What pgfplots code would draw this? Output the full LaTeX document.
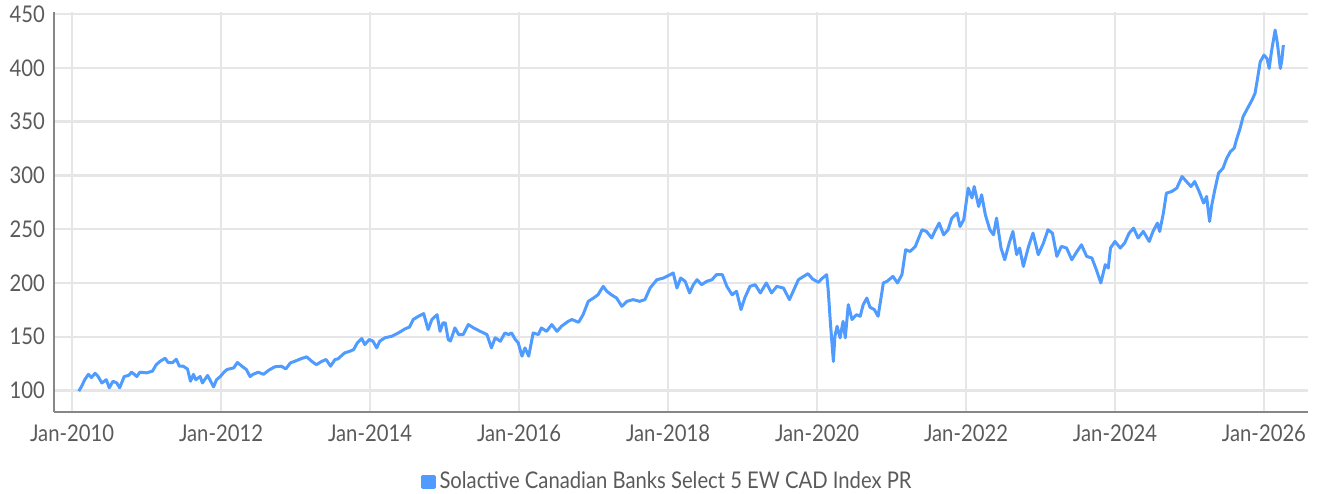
\documentclass[border=0pt]{standalone}
\usepackage{fontspec}
\setmainfont[FakeStretch=0.88]{Lato}
\usepackage{pgfplots}
\pgfplotsset{compat=1.18}
\definecolor{lineblue}{RGB}{79,155,255}
\definecolor{gridgray}{RGB}{230,230,230}
\definecolor{axisgray}{RGB}{135,135,135}
\definecolor{textgray}{RGB}{90,90,90}
\begin{document}
\begin{tikzpicture}
\begin{axis}[
  name=ax,
  scale only axis,
  width=627pt, height=200pt,
  xmin=2009.758, xmax=2026.591,
  ymin=80, ymax=452,
  axis x line*=bottom, axis y line*=left,
  axis line style={draw=axisgray, line width=1pt, -},
  xtick={2010,2012,2014,2016,2018,2020,2022,2024,2026},
  xticklabels={Jan-2010,Jan-2012,Jan-2014,Jan-2016,Jan-2018,Jan-2020,Jan-2022,Jan-2024,Jan-2026},
  ytick={100,150,200,250,300,350,400,450},
  yticklabels={100,150,200,250,300,350,400,450},
  major tick length=0pt,
  grid=major,
  major grid style={draw=gridgray, line width=1.2pt},
  tick label style={font=\fontsize{11.5}{12}\selectfont, text=textgray},
  xticklabel style={yshift=-3pt},
  yticklabel style={xshift=-1pt},
  legend style={draw=none, fill=none, at={(0.49,-0.175)}, anchor=center,
    font=\fontsize{11.5}{12}\selectfont, text=textgray, inner sep=0pt,
    legend cell align=left},
  legend image code/.code={\fill[lineblue] (0pt,-2.9pt) rectangle (5.6pt,2.9pt);},
  clip=false,
]
\addplot[lineblue, line width=1.5pt, line join=round] coordinates {
(2010.09,99.4) (2010.13,104) (2010.17,110) (2010.22,115) (2010.26,112) (2010.31,116)
(2010.35,113) (2010.40,107) (2010.46,110) (2010.50,102.5) (2010.55,108.6) (2010.60,107)
(2010.64,102.5) (2010.70,113) (2010.76,114) (2010.80,117) (2010.87,113) (2010.91,117)
(2011.00,116.4) (2011.08,118) (2011.13,124) (2011.18,127) (2011.25,130) (2011.29,126)
(2011.35,126) (2011.40,129) (2011.44,122.6) (2011.49,122.6) (2011.55,120) (2011.59,108.6)
(2011.63,115) (2011.66,110) (2011.72,113) (2011.75,107) (2011.82,114) (2011.85,110)
(2011.90,103.4) (2011.94,110) (2011.99,113) (2012.04,117) (2012.08,119.5) (2012.17,121)
(2012.22,126) (2012.28,122.6) (2012.34,119.5) (2012.39,113) (2012.43,115) (2012.50,117)
(2012.57,115) (2012.64,118.8) (2012.72,122) (2012.81,122.6) (2012.87,120) (2012.93,125.6)
(2013.02,128) (2013.08,129.7) (2013.15,131.3) (2013.22,127) (2013.28,124) (2013.35,127)
(2013.41,128.8) (2013.47,122.6) (2013.53,128.8) (2013.57,129.4) (2013.66,135) (2013.73,136.5)
(2013.78,138) (2013.83,144.3) (2013.89,148.3) (2013.93,142.7) (2013.99,147.4) (2014.04,145.8)
(2014.09,139.6) (2014.13,145.8) (2014.20,149) (2014.29,150.4) (2014.38,153.5) (2014.47,157.3)
(2014.53,159) (2014.58,166) (2014.65,169) (2014.72,171.5) (2014.78,156.6) (2014.83,166)
(2014.90,170.5) (2014.94,155) (2014.98,162.9) (2015.01,162.9) (2015.05,147.4) (2015.08,146)
(2015.14,158.2) (2015.19,152) (2015.25,152) (2015.32,161.3) (2015.39,158.2) (2015.48,155)
(2015.57,152) (2015.63,139.6) (2015.68,149) (2015.75,145.8) (2015.81,153.5) (2015.86,152)
(2015.90,153.5) (2015.95,147.4) (2015.99,144.3) (2016.04,131.9) (2016.08,139.6) (2016.13,131.9)
(2016.19,153.5) (2016.26,152) (2016.30,158.2) (2016.37,155) (2016.44,161.3) (2016.51,155)
(2016.57,159.7) (2016.66,164.3) (2016.71,166) (2016.80,163.4) (2016.86,170.5) (2016.93,182.9)
(2017.00,186) (2017.06,189) (2017.13,196.8) (2017.18,192.2) (2017.24,189) (2017.31,186)
(2017.38,178.3) (2017.45,182.9) (2017.53,184.5) (2017.62,182.9) (2017.69,184.5) (2017.76,195.3)
(2017.85,203) (2017.94,204.6) (2018.03,207.7) (2018.07,209.3) (2018.12,195.3) (2018.17,204.6)
(2018.23,201.5) (2018.29,190.7) (2018.34,198.4) (2018.39,203) (2018.45,198.4) (2018.52,201.5)
(2018.59,203) (2018.65,207.7) (2018.73,207.7) (2018.79,196.8) (2018.86,189) (2018.92,192.2)
(2018.98,175.2) (2019.03,186) (2019.10,196.8) (2019.17,198.4) (2019.24,190.7) (2019.32,200)
(2019.39,190.7) (2019.46,196.8) (2019.55,195.3) (2019.63,184.5) (2019.68,192.2) (2019.75,203)
(2019.82,206.1) (2019.88,208.6) (2019.94,203.7) (2020.02,200.5) (2020.06,203.7) (2020.13,207.7)
(2020.15,193.8) (2020.18,162.9) (2020.22,127) (2020.24,150.4) (2020.27,159.7) (2020.31,149)
(2020.35,164.3) (2020.38,149) (2020.42,179.8) (2020.47,166) (2020.53,170.5) (2020.58,169)
(2020.62,179.8) (2020.67,186) (2020.71,177.5) (2020.77,175.2) (2020.82,169) (2020.87,190.7)
(2020.89,200) (2020.94,201.5) (2021.02,206.1) (2021.08,200) (2021.14,207.7) (2021.19,230.9)
(2021.25,229.3) (2021.32,234) (2021.41,249.5) (2021.47,247.9) (2021.54,241.8) (2021.58,247.9)
(2021.64,255.7) (2021.70,244.8) (2021.76,249.5) (2021.81,260.3) (2021.88,265) (2021.92,252.5)
(2021.97,258.8) (2022.03,288.2) (2022.08,279) (2022.11,289.7) (2022.17,271.1) (2022.21,282)
(2022.26,263.4) (2022.32,249.5) (2022.37,244.8) (2022.41,260.3) (2022.47,232.5) (2022.52,221.6)
(2022.58,237.1) (2022.63,247.9) (2022.68,226.3) (2022.72,232.5) (2022.77,215.4) (2022.84,234)
(2022.90,246.4) (2022.97,226.3) (2023.04,237.1) (2023.10,249.5) (2023.16,246.4) (2023.22,224.7)
(2023.28,234) (2023.35,232.5) (2023.42,221.6) (2023.49,229.3) (2023.55,235.5) (2023.62,224.7)
(2023.69,223.2) (2023.75,212.3) (2023.81,200) (2023.87,217) (2023.91,213.9) (2023.94,232.5)
(2024.00,238.6) (2024.07,232.5) (2024.13,237.1) (2024.19,246.4) (2024.25,251) (2024.31,241.8)
(2024.38,247.9) (2024.46,238.6) (2024.51,247.9) (2024.57,255.7) (2024.60,247.9) (2024.65,265)
(2024.69,283.5) (2024.76,285) (2024.83,288.2) (2024.90,299) (2024.96,294.3) (2025.02,289.7)
(2025.07,294.3) (2025.13,285) (2025.19,274.3) (2025.23,280.4) (2025.27,257.2) (2025.30,272.7)
(2025.34,286.6) (2025.39,302.1) (2025.45,306.7) (2025.50,316) (2025.55,322.2) (2025.60,325.3)
(2025.63,333) (2025.68,343.9) (2025.72,354.7) (2025.78,362.5) (2025.84,370.2) (2025.88,376.4)
(2025.91,388.7) (2025.95,405.7) (2026.00,411.9) (2026.04,408.8) (2026.07,399.5) (2026.10,415)
(2026.15,435.2) (2026.18,422.8) (2026.22,399.5) (2026.24,407.3) (2026.26,421.2)
};
\addlegendentry{Solactive Canadian Banks Select 5 EW CAD Index PR}
\end{axis}
\pgfresetboundingbox
\useasboundingbox ([xshift=-27pt,yshift=-41pt]ax.south west) rectangle ([xshift=5.5pt,yshift=6pt]ax.north east);
\end{tikzpicture}
\end{document}
